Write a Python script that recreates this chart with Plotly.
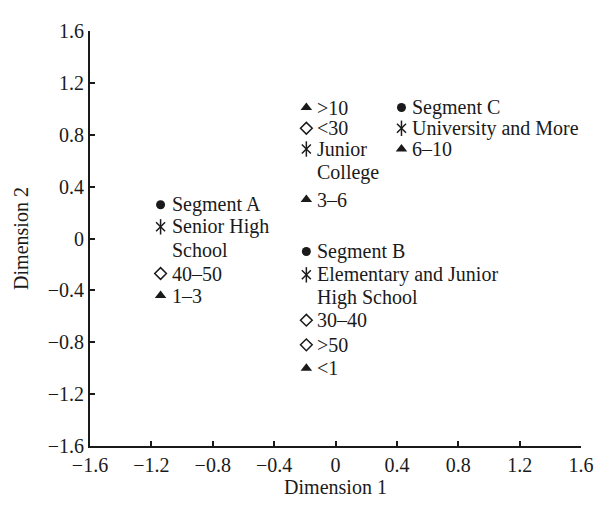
import plotly.graph_objects as go

# ---- data ----
seg_labels = ["Segment A", "Segment B", "Segment C"]
seg_x = [-1.14, -0.19, 0.43]
seg_y = [0.26, -0.10, 1.01]

edu_labels = ["Senior High\nSchool", "Elementary and Junior\nHigh School", "Junior\nCollege", "University and More"]
edu_x = [-1.14, -0.19, -0.19, 0.43]
edu_y = [0.09, -0.28, 0.69, 0.85]

age_labels = ["40–50", "30–40", ">50", "<30"]
age_x = [-1.14, -0.19, -0.19, -0.19]
age_y = [-0.27, -0.63, -0.82, 0.85]

yrs_labels = ["1–3", "<1", "3–6", ">10", "6–10"]
yrs_x = [-1.14, -0.19, -0.19, -0.19, 0.43]
yrs_y = [-0.44, -1.00, 0.30, 1.01, 0.69]

tick_vals = [-1.6, -1.2, -0.8, -0.4, 0, 0.4, 0.8, 1.2, 1.6]
tick_text = ["−1.6", "−1.2", "−0.8", "−0.4", "0", "0.4", "0.8", "1.2", "1.6"]

FONT = "Liberation Serif, Times New Roman, serif"
FS = 20
INK = "#1a1a1a"

fig = go.Figure()
fig.add_trace(go.Scatter(x=seg_x, y=seg_y, mode="markers",
                         marker=dict(symbol="circle", size=9, color=INK)))
fig.add_trace(go.Scatter(x=edu_x, y=edu_y, mode="markers",
                         marker=dict(symbol="x-thin-open", size=9, color=INK,
                                     line=dict(color=INK, width=1.5))))
fig.add_trace(go.Scatter(x=edu_x, y=edu_y, mode="markers",
                         marker=dict(symbol="line-ns-open", size=11, color=INK,
                                     line=dict(color=INK, width=1.5))))
fig.add_trace(go.Scatter(x=age_x, y=age_y, mode="markers",
                         marker=dict(symbol="diamond-open", size=9, color=INK,
                                     line=dict(color=INK, width=1.5))))
fig.add_trace(go.Scatter(x=yrs_x, y=yrs_y, mode="markers",
                         marker=dict(symbol="triangle-up", size=10, color=INK)))


def esc(s):
    return s.replace("&", "&amp;").replace("<", "&lt;").replace(">", "&gt;")


annotations = []
for labels, xs, ys in [(seg_labels, seg_x, seg_y), (edu_labels, edu_x, edu_y),
                       (age_labels, age_x, age_y), (yrs_labels, yrs_x, yrs_y)]:
    for lab, x, y in zip(labels, xs, ys):
        for i, line in enumerate(lab.split("\n")):
            annotations.append(dict(x=x, y=y, xref="x", yref="y", text=esc(line),
                                    showarrow=False, xanchor="left", yanchor="middle",
                                    xshift=9, yshift=-i * 23,
                                    font=dict(family=FONT, size=FS, color=INK)))

axis_common = dict(range=[-1.6, 1.6], tickvals=tick_vals, ticktext=tick_text,
                   ticks="inside", ticklen=5, tickwidth=1.5, tickcolor=INK,
                   showline=True, linecolor=INK, linewidth=2, mirror=False,
                   showgrid=False, zeroline=False,
                   tickfont=dict(family=FONT, size=FS, color=INK))

fig.update_layout(
    width=598, height=498,
    margin=dict(l=75, r=15, t=12, b=53),
    paper_bgcolor="white", plot_bgcolor="white",
    showlegend=False,
    annotations=annotations,
    xaxis=dict(**axis_common, title=dict(text="Dimension 1", standoff=4,
                                         font=dict(family=FONT, size=FS, color=INK))),
    yaxis=dict(**axis_common, title=dict(text="Dimension 2", standoff=14,
                                         font=dict(family=FONT, size=FS, color=INK))),
)

fig.write_html("out.html")
